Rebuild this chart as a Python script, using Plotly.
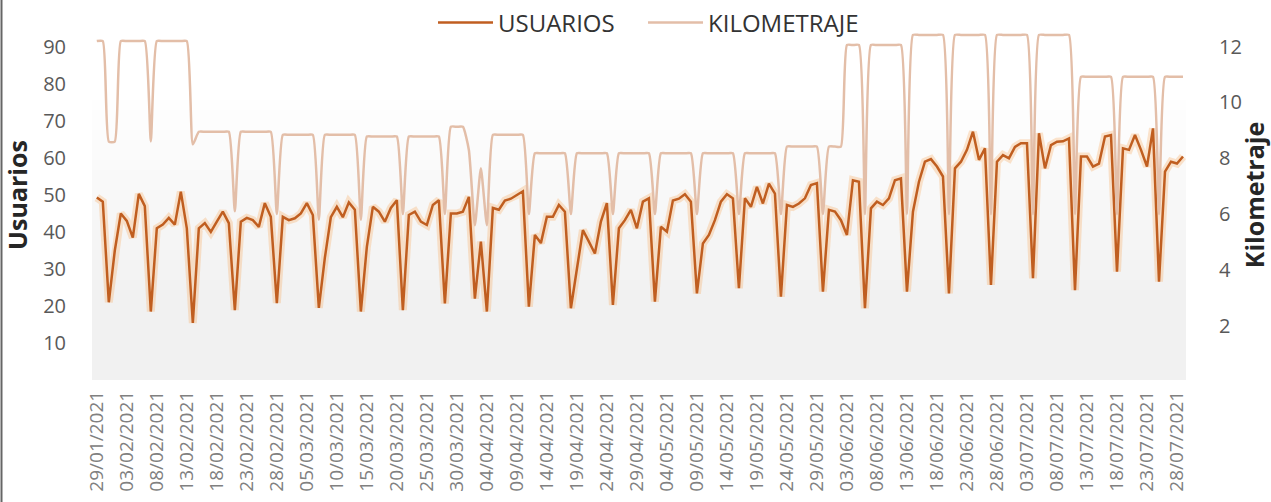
import pandas as pd
import plotly.graph_objects as go

# Daily users per month (29/01/2021 - 29/07/2021)
usuarios_ene = [49.3, 48.2, 21]
usuarios_feb = [35, 45, 43, 38.5, 50.3, 47, 18.5, 41, 42, 43.8, 42, 50.9, 41, 15.4,
                41, 42.4, 40, 42.8, 45.5, 42.4, 18.9, 42.8, 43.8, 43.2, 41.4, 47.8, 44.1, 20.8]
usuarios_mar = [44.1, 43.2, 43.7, 45, 47.8, 44.6, 19.5, 33, 44, 46.8, 44, 48, 46, 18.5,
                36, 46.8, 45.5, 42.8, 46.5, 48.6, 18.9, 44.6, 45.5, 42.8, 41.9, 47.3, 48.6,
                20.7, 45, 45, 45.5]
usuarios_abr = [49.5, 22, 37.4, 18.5, 46.5, 46, 48.5, 49, 50, 51, 19.8, 39.2, 37, 44.1,
                44.1, 47.3, 45.5, 19.4, 30, 40.5, 37.4, 34.2, 42.8, 47.8, 20.3, 41, 43.2,
                46, 41, 48.2]
usuarios_may = [49.1, 21.2, 41.4, 40.1, 48.5, 49, 50.2, 48.2, 23.4, 36.9, 39.2, 43.2, 48.2,
                50.2, 49.1, 24.8, 49.1, 46.8, 52.2, 47.7, 53.1, 50.4, 22.5, 47.3, 46.8, 47.7,
                49.1, 52.7, 53.2, 23.9, 46]
usuarios_jun = [45.5, 43.2, 39.2, 54, 53.6, 19.4, 46.4, 48.2, 47.3, 49.1, 54, 54.5, 23.9,
                45.5, 53.6, 59, 59.7, 57.7, 55, 23.4, 57.2, 59, 62.2, 67.1, 59.5, 62.6, 25.7,
                59, 60.8, 59.9]
usuarios_jul = [63, 64, 64, 27.5, 66.7, 57.2, 63.5, 64.4, 64.5, 65.3, 24.3, 60.4, 60.4, 57.7,
                58.5, 65.8, 66.2, 29.3, 62.6, 62.2, 66.2, 62.2, 57.7, 68, 26.6, 56.3, 59,
                58.5, 60.4]

# Daily mileage per month
km_ene = [12.2, 12.2, 8.6]
km_feb = [8.6, 12.2, 12.2, 12.2, 12.2, 12.2, 8.6, 12.2, 12.2, 12.2, 12.2, 12.2, 12.2, 8.5,
          8.95, 8.95, 8.95, 8.95, 8.95, 8.95, 6.1, 8.95, 8.95, 8.95, 8.95, 8.95, 8.95, 6.0]
km_mar = [8.84, 8.84, 8.84, 8.84, 8.84, 8.84, 5.8, 8.84, 8.84, 8.84, 8.84, 8.84, 8.84, 5.8,
          8.78, 8.78, 8.78, 8.78, 8.78, 8.78, 6.0, 8.78, 8.78, 8.78, 8.78, 8.78, 8.78, 6.0,
          9.13, 9.13, 9.13]
km_abr = [8.3, 5.6, 7.64, 5.6, 8.84, 8.84, 8.84, 8.84, 8.84, 8.84, 6.0, 8.18, 8.18, 8.18,
          8.18, 8.18, 8.18, 6.0, 8.18, 8.18, 8.18, 8.18, 8.18, 8.18, 6.0, 8.18, 8.18, 8.18,
          8.18, 8.18]
km_may = [8.18, 6.0, 8.18, 8.18, 8.18, 8.18, 8.18, 8.18, 6.0, 8.18, 8.18, 8.18, 8.18, 8.18,
          8.18, 6.0, 8.18, 8.18, 8.18, 8.18, 8.18, 8.18, 6.0, 8.42, 8.42, 8.42, 8.42, 8.42,
          8.42, 6.0, 8.42]
km_jun = [8.42, 8.42, 12.06, 12.06, 12.06, 6.0, 12.06, 12.06, 12.06, 12.06, 12.06, 12.06,
          6.0, 12.42, 12.42, 12.42, 12.42, 12.42, 12.42, 6.0, 12.42, 12.42, 12.42, 12.42,
          12.42, 12.42, 6.0, 12.42, 12.42, 12.42]
km_jul = [12.42, 12.42, 12.42, 6.0, 12.42, 12.42, 12.42, 12.42, 12.42, 12.42, 6.0, 10.92,
          10.92, 10.92, 10.92, 10.92, 10.92, 6.0, 10.92, 10.92, 10.92, 10.92, 10.92, 10.92,
          6.0, 10.92, 10.92, 10.92, 10.92]

usuarios = (usuarios_ene + usuarios_feb + usuarios_mar + usuarios_abr
            + usuarios_may + usuarios_jun + usuarios_jul)
kilometraje = km_ene + km_feb + km_mar + km_abr + km_may + km_jun + km_jul
fechas = pd.date_range("2021-01-29", periods=len(usuarios), freq="D")

TICK_COLOR = "#595959"
FONT = "Open Sans"

fig = go.Figure()

fig.add_trace(go.Scatter(
    x=fechas, y=kilometraje, name="KILOMETRAJE", yaxis="y2", legend="legend2",
    mode="lines", line=dict(color="#E3BEA8", width=2.5, shape="spline", smoothing=0.5),
    hoverinfo="skip"))

# soft orange halo under the users line
fig.add_trace(go.Scatter(
    x=fechas, y=usuarios, mode="lines", showlegend=False, hoverinfo="skip",
    line=dict(color="rgba(248,160,80,0.28)", width=8)))

fig.add_trace(go.Scatter(
    x=fechas, y=usuarios, name="USUARIOS", mode="lines", legend="legend",
    line=dict(color="#C05E20", width=2.5)))

# vertical white-to-grey background gradient inside the plot area
shapes = []
top_px, bot_px = 90, 300
steps = 21
for i in range(steps):
    y_hi = (380 - (top_px + i * (bot_px - top_px) / steps)) / 370
    y_lo = (380 - (top_px + (i + 1) * (bot_px - top_px) / steps)) / 370
    g = int(round(255 - (255 - 241) * (i + 0.5) / steps))
    shapes.append(dict(type="rect", xref="x domain", yref="y domain", x0=0, x1=1,
                       y0=y_lo, y1=y_hi, fillcolor=f"rgb({g},{g},{g})",
                       line=dict(width=0), layer="below"))
shapes.append(dict(type="rect", xref="x domain", yref="y domain", x0=0, x1=1,
                   y0=0, y1=(380 - bot_px) / 370, fillcolor="rgb(241,241,241)",
                   line=dict(width=0), layer="below"))
# left frame edge
shapes.append(dict(type="line", xref="paper", yref="paper",
                   x0=(1.5 - 92) / 1094, x1=(1.5 - 92) / 1094,
                   y0=-122 / 370, y1=380 / 370, line=dict(color="#666666", width=2)))

legend_style = dict(orientation="h", xanchor="left", y=1 - 13 / 370, yanchor="middle",
                    bgcolor="rgba(0,0,0,0)",
                    font=dict(size=24, color="#333333", family=FONT), itemwidth=55)

fig.update_layout(
    width=1271, height=502,
    margin=dict(l=92, r=85, t=10, b=122, autoexpand=False),
    paper_bgcolor="white", plot_bgcolor="white",
    font=dict(family=FONT, color=TICK_COLOR),
    shapes=shapes,
    showlegend=True,
    legend=dict(x=(433 - 92) / 1094, **legend_style),
    legend2=dict(x=(643 - 92) / 1094, **legend_style),
    xaxis=dict(
        type="date",
        range=["2021-01-28 04:48", "2021-07-29 12:00"],
        tick0="2021-01-29", dtick=5 * 86400000, tickformat="%d/%m/%Y",
        tickangle=-90, tickfont=dict(size=19, color="#808080"),
        showgrid=False, zeroline=False, showline=False, ticks="",
        ticklabelstandoff=6, automargin=False),
    yaxis=dict(
        range=[0, 100], tickvals=[10, 20, 30, 40, 50, 60, 70, 80, 90],
        tickfont=dict(size=20, color=TICK_COLOR),
        showgrid=False, zeroline=False, showline=False, ticks="",
        ticklabelstandoff=25, automargin=False,
        title=dict(text="<b>Usuarios</b>", font=dict(size=25, color="#262626"),
                   standoff=8)),
    yaxis2=dict(
        overlaying="y", side="right",
        range=[0.054, 13.315], tickvals=[2, 4, 6, 8, 10, 12],
        tickfont=dict(size=20, color=TICK_COLOR),
        showgrid=False, zeroline=False, showline=False, ticks="",
        ticklabelstandoff=32, automargin=False,
        title=dict(text="<b>Kilometraje</b>", font=dict(size=25, color="#262626"),
                   standoff=13)),
)

fig.write_html("out.html")
